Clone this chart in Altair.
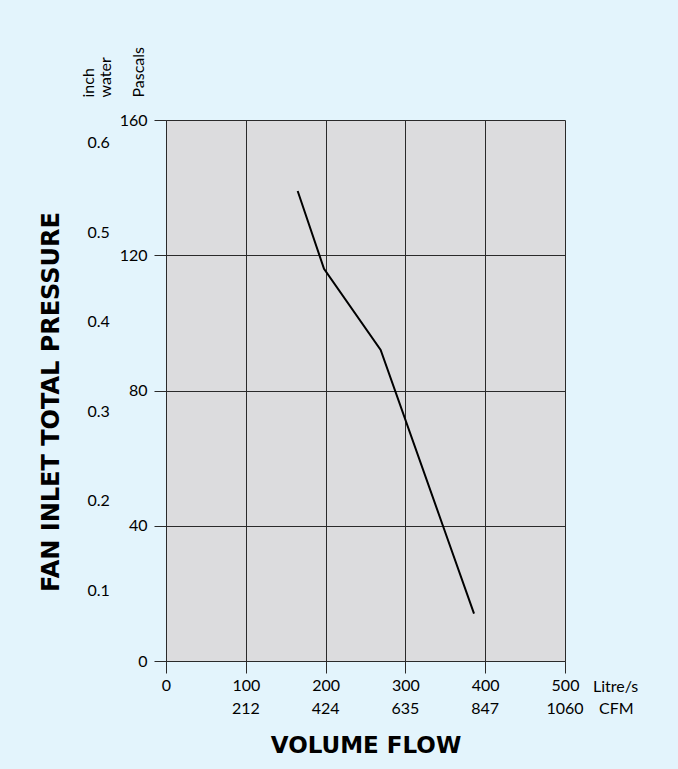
import altair as alt
import pandas as pd

# Curve (Litre/s vs Pascals)
flow = [165, 198, 269, 347, 386]
pressure = [139, 116, 92, 40, 14]

# Axis ticks
flow_ticks = [0, 100, 200, 300, 400, 500]
pa_ticks = [0, 40, 80, 120, 160]
cfm_ticks = [100, 200, 300, 400, 500]
cfm_labels = ["212", "424", "635", "847", "1060"]
inch_ticks = [0.1, 0.2, 0.3, 0.4, 0.5, 0.6]

FONT = "Lato"
BOLD_FONT = "DejaVu Sans"
GRID = "#2a2a2a"

curve = pd.DataFrame({"flow": flow, "pressure": pressure})
inch_df = pd.DataFrame({"inch": inch_ticks})
cfm_df = pd.DataFrame({"flow": cfm_ticks, "cfm": cfm_labels})

x_scale = alt.Scale(domain=[0, 500], nice=False, zero=False)

line = alt.Chart(curve).mark_line(color="black", strokeWidth=2).encode(
    x=alt.X("flow:Q", scale=x_scale,
            axis=alt.Axis(values=flow_ticks, grid=True, gridColor=GRID, gridWidth=1,
                          domainColor=GRID, tickColor=GRID, tickSize=12,
                          labelPadding=4, labelFlush=False, labelFontSize=16,
                          labelFont=FONT, labelColor="black",
                          title="VOLUME FLOW", titleFont=BOLD_FONT, titleFontSize=23,
                          titleFontWeight="bold", titleColor="black",
                          titleY=84, titleBaseline="middle")),
    y=alt.Y("pressure:Q", scale=alt.Scale(domain=[0, 160], nice=False),
            axis=alt.Axis(values=pa_ticks, grid=True, gridColor=GRID, gridWidth=1,
                          domainColor=GRID, tickColor=GRID, tickSize=12,
                          labelPadding=7, labelFlush=False, labelFontSize=16,
                          labelFont=FONT, labelColor="black",
                          title="Pascals", titleFont=FONT, titleFontSize=16,
                          titleFontWeight="normal", titleColor="black",
                          titleAngle=270, titleX=-28, titleY=-23,
                          titleAlign="left", titleBaseline="middle")),
)

inch = alt.Chart(inch_df).mark_point(opacity=0).encode(
    x=alt.value(0),
    y=alt.Y("inch:Q", scale=alt.Scale(domain=[0.0206, 0.6257], nice=False, zero=False),
            axis=alt.Axis(orient="left", values=inch_ticks, format=".1f", grid=False,
                          domain=False, ticks=False, tickSize=0, labelPadding=79,
                          labelAlign="left", labelFlush=False, labelFontSize=16,
                          labelFont=FONT, labelColor="black",
                          title=["inch", "water"], titleFont=FONT, titleFontSize=16,
                          titleFontWeight="normal", titleColor="black",
                          titleLineHeight=17,
                          titleAngle=270, titleX=-78, titleY=-23,
                          titleAlign="left", titleBaseline="middle")),
)

cfm = alt.Chart(cfm_df).mark_text(font=FONT, fontSize=16, color="black",
                                  baseline="middle", align="center").encode(
    x=alt.X("flow:Q", scale=x_scale),
    y=alt.value(589),
    text="cfm:N",
)

unit_l = alt.Chart(pd.DataFrame({"t": ["Litre/s"]})).mark_text(
    font=FONT, fontSize=16, color="black", align="left", baseline="middle"
).encode(x=alt.value(427), y=alt.value(567), text="t:N")
unit_c = alt.Chart(pd.DataFrame({"t": ["CFM"]})).mark_text(
    font=FONT, fontSize=16, color="black", align="left", baseline="middle"
).encode(x=alt.value(433), y=alt.value(589), text="t:N")

ytitle = alt.Chart(pd.DataFrame({"t": ["FAN INLET TOTAL PRESSURE"]})).mark_text(
    font=BOLD_FONT, fontSize=24, fontWeight="bold", color="black", angle=270,
    align="center", baseline="middle"
).encode(x=alt.value(-114), y=alt.value(282), text="t:N")

chart = alt.layer(line, inch, cfm, unit_l, unit_c, ytitle).resolve_scale(
    y="independent"
).properties(
    width=399, height=541,
    padding={"left": 166, "top": 120, "right": 113, "bottom": 108},
    autosize=alt.AutoSizeParams(type="none"),
).configure(background="#e3f4fc").configure_view(fill="#dcdcde", stroke=None)

chart.save("out.html", embed_options={"renderer": "svg", "actions": False})
